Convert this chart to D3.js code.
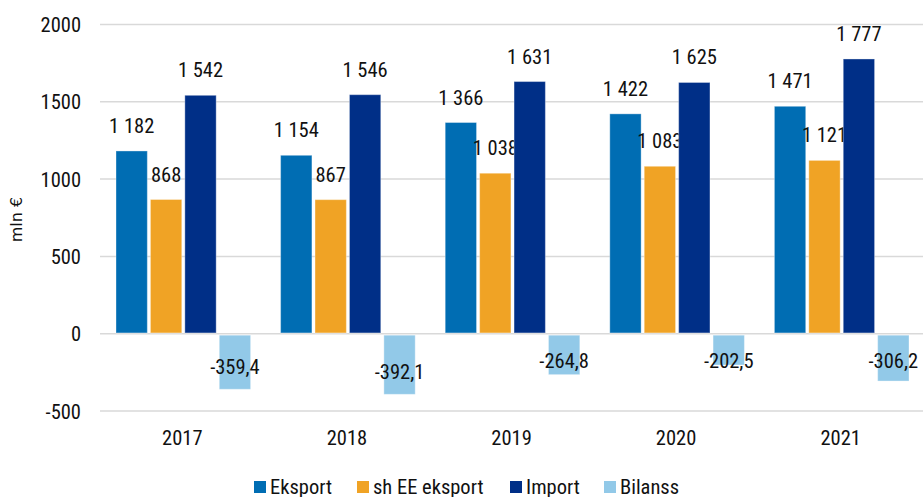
<!DOCTYPE html>
<html><head><meta charset="utf-8">
<script src="https://cdn.jsdelivr.net/npm/d3@7"></script>
<style>
body{margin:0;background:#fff;}
text{font-family:"Roboto Condensed","Liberation Sans Narrow","Arial Narrow",Roboto,sans-serif;fill:#111;}
</style></head>
<body>
<svg id="chart" width="923" height="497"></svg>
<script>
const years = ["2017","2018","2019","2020","2021"];
const seriesNames = ["Eksport","sh EE eksport","Import","Bilanss"];
const eksport = [1182, 1154, 1366, 1422, 1471];
const shEE = [868, 867, 1038, 1083, 1121];
const importVals = [1542, 1546, 1631, 1625, 1777];
const bilanss = [-359.4, -392.1, -264.8, -202.5, -306.2];
const yTicks = [-500, 0, 500, 1000, 1500, 2000];
const colors = ["#006db3", "#f0a325", "#002f87", "#92c9e8"];

const seriesVals = [eksport, shEE, importVals, bilanss];
const svg = d3.select("#chart");
const x0 = d3.scaleBand().domain(years).range([100, 923]);
const x1 = d3.scaleBand().domain(seriesNames).range([16, 150.6]).paddingInner(0.09);
const y = d3.scaleLinear().domain([-500, 2000]).range([411, 24.5]);

// gridlines
svg.append("g").selectAll("line").data(yTicks).join("line")
  .attr("x1", 100).attr("x2", 923)
  .attr("y1", d => y(d)).attr("y2", d => y(d))
  .attr("stroke", "#d9d9d9").attr("stroke-width", 1.5);

// y axis
const yAxis = d3.axisLeft(y).tickValues(yTicks).tickSize(0).tickPadding(0)
  .tickFormat(d => String(d).replace("\u2212", "-"));
const gy = svg.append("g").attr("transform", "translate(81,0)").call(yAxis);
gy.select(".domain").remove();
gy.selectAll("text").attr("font-size", 20.5).attr("font-family", null).attr("dy", "0.35em").attr("fill", "#111");

// x axis labels
const xAxis = d3.axisBottom(x0).tickSize(0).tickPadding(0);
const gx = svg.append("g").attr("transform", "translate(0,438)").call(xAxis);
gx.select(".domain").remove();
gx.selectAll("text").attr("font-size", 20.5).attr("font-family", null).attr("dy", "0.35em").attr("fill", "#111");

// y title
svg.append("text").attr("transform", "translate(16,219.5) rotate(-90)")
  .attr("text-anchor", "middle").attr("dominant-baseline", "central")
  .style("font-family", "'DejaVu Sans', sans-serif").attr("font-size", 16).text("mln €");

const fmtInt = v => d3.format(",d")(v).replace(/,/g, " ");
const fmtDec = v => d3.format(".1f")(v).replace(".", ",").replace("\u2212", "-");

// bars
seriesNames.forEach((s, si) => {
  const g = svg.append("g");
  const data = years.map((yr, i) => ({yr, v: seriesVals[si][i]}));
  g.selectAll("rect").data(data).join("rect")
    .attr("x", d => x0(d.yr) + x1(s))
    .attr("width", x1.bandwidth())
    .attr("y", d => d.v >= 0 ? y(d.v) : y(0) + 1.5)
    .attr("height", d => d.v >= 0 ? y(0) - y(d.v) - 0.75 : y(d.v) - y(0) - 1.5)
    .attr("fill", colors[si])
    .attr("stroke", "#ffffff").attr("stroke-opacity", 0.35).attr("stroke-width", 1);
  g.selectAll("text").data(data).join("text")
    .attr("x", d => x0(d.yr) + x1(s) + x1.bandwidth() / 2)
    .attr("y", d => d.v >= 0 ? y(d.v) - 25 : Math.max(y(0) + 27, y(d.v) - 22))
    .attr("text-anchor", "middle").attr("dominant-baseline", "central")
    .attr("font-size", 20.5)
    .text(d => d.v >= 0 ? fmtInt(d.v) : fmtDec(d.v));
});

// legend
const legX = [254, 357, 510, 604];
const leg = svg.append("g");
seriesNames.forEach((s, i) => {
  leg.append("rect").attr("x", legX[i]).attr("y", 481).attr("width", 12).attr("height", 12).attr("fill", colors[i]);
  leg.append("text").attr("x", legX[i] + 16).attr("y", 486.5).attr("dominant-baseline", "central")
    .attr("font-size", 20.5).text(s);
});
</script>
</body></html>
